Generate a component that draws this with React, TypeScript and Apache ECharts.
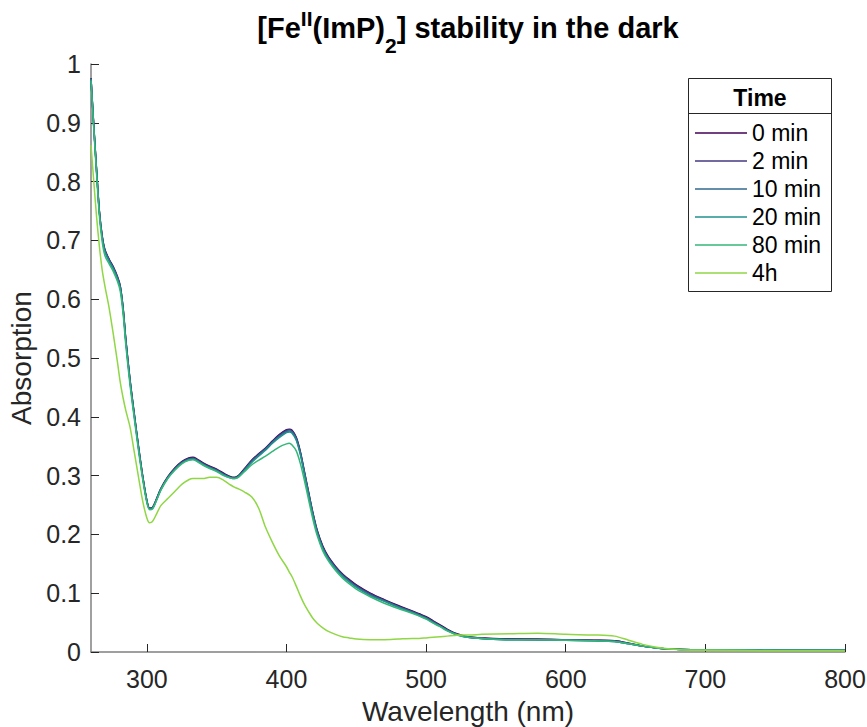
import React, { useEffect, useRef } from 'react';
import * as echarts from 'echarts';

const FONT = '"Liberation Sans", Arial, Helvetica, sans-serif';

const wavelengths = [
  260, 262, 264, 266, 268, 270,
  273, 276, 279, 281, 283, 285,
  288, 291, 294, 297, 300, 302,
  304, 307, 310, 315, 320, 325,
  330, 333, 336, 340, 345, 350,
  355, 360, 363, 366, 370, 375,
  380, 385, 390, 395, 400, 402,
  404, 407, 410, 413, 416, 419,
  422, 426, 430, 435, 440, 445,
  450, 460, 470, 480, 490, 495,
  500, 505, 510, 515, 520, 525,
  530, 540, 560, 580, 600, 620,
  635, 645, 655, 665, 675, 690,
  700, 750, 800,
];

const min0 = [
  0.976, 0.895, 0.820, 0.750, 0.708, 0.684,
  0.668, 0.655, 0.638, 0.622, 0.585, 0.530,
  0.462, 0.405, 0.350, 0.300, 0.258, 0.245,
  0.246, 0.261, 0.278, 0.298, 0.313, 0.324,
  0.330, 0.331, 0.328, 0.322, 0.316, 0.311,
  0.304, 0.298, 0.297, 0.301, 0.312, 0.326,
  0.337, 0.347, 0.359, 0.370, 0.378, 0.379,
  0.377, 0.365, 0.340, 0.305, 0.270, 0.236,
  0.207, 0.180, 0.162, 0.146, 0.133, 0.123,
  0.114, 0.100, 0.089, 0.079, 0.070, 0.065,
  0.060, 0.053, 0.046, 0.039, 0.033, 0.029,
  0.026, 0.024, 0.022, 0.022, 0.021, 0.020,
  0.019, 0.015, 0.010, 0.007, 0.005, 0.004,
  0.004, 0.003, 0.003,
];

const min2 = [
  0.975, 0.894, 0.819, 0.749, 0.707, 0.683,
  0.667, 0.654, 0.637, 0.621, 0.584, 0.529,
  0.461, 0.404, 0.349, 0.299, 0.257, 0.244,
  0.245, 0.260, 0.277, 0.297, 0.312, 0.323,
  0.329, 0.330, 0.327, 0.321, 0.315, 0.310,
  0.303, 0.297, 0.296, 0.300, 0.311, 0.325,
  0.336, 0.346, 0.358, 0.369, 0.377, 0.378,
  0.376, 0.364, 0.339, 0.304, 0.269, 0.235,
  0.206, 0.179, 0.161, 0.145, 0.132, 0.122,
  0.113, 0.099, 0.088, 0.078, 0.069, 0.064,
  0.059, 0.052, 0.045, 0.038, 0.032, 0.028,
  0.025, 0.023, 0.022, 0.021, 0.021, 0.020,
  0.019, 0.015, 0.010, 0.007, 0.005, 0.004,
  0.004, 0.003, 0.003,
];

const min10 = [
  0.975, 0.893, 0.818, 0.748, 0.706, 0.682,
  0.666, 0.653, 0.636, 0.620, 0.583, 0.528,
  0.460, 0.403, 0.348, 0.298, 0.257, 0.244,
  0.245, 0.260, 0.277, 0.297, 0.311, 0.322,
  0.328, 0.329, 0.326, 0.320, 0.314, 0.309,
  0.302, 0.297, 0.296, 0.300, 0.310, 0.324,
  0.335, 0.345, 0.357, 0.367, 0.375, 0.376,
  0.374, 0.362, 0.337, 0.302, 0.267, 0.233,
  0.204, 0.177, 0.159, 0.143, 0.130, 0.120,
  0.111, 0.097, 0.087, 0.077, 0.068, 0.063,
  0.058, 0.051, 0.044, 0.037, 0.032, 0.028,
  0.025, 0.023, 0.021, 0.021, 0.020, 0.019,
  0.018, 0.014, 0.010, 0.007, 0.005, 0.004,
  0.004, 0.003, 0.003,
];

const min20 = [
  0.974, 0.892, 0.817, 0.747, 0.704, 0.680,
  0.664, 0.651, 0.634, 0.618, 0.581, 0.526,
  0.458, 0.401, 0.347, 0.297, 0.256, 0.243,
  0.244, 0.259, 0.276, 0.296, 0.310, 0.321,
  0.327, 0.328, 0.325, 0.319, 0.313, 0.308,
  0.301, 0.296, 0.295, 0.299, 0.309, 0.322,
  0.333, 0.343, 0.355, 0.365, 0.373, 0.374,
  0.372, 0.360, 0.335, 0.300, 0.265, 0.231,
  0.202, 0.175, 0.158, 0.142, 0.129, 0.119,
  0.110, 0.096, 0.086, 0.076, 0.067, 0.062,
  0.057, 0.050, 0.044, 0.037, 0.031, 0.027,
  0.025, 0.023, 0.021, 0.021, 0.020, 0.019,
  0.018, 0.014, 0.010, 0.007, 0.005, 0.004,
  0.004, 0.003, 0.003,
];

const min80 = [
  0.972, 0.889, 0.812, 0.742, 0.698, 0.674,
  0.660, 0.647, 0.630, 0.613, 0.575, 0.520,
  0.453, 0.397, 0.343, 0.294, 0.254, 0.242,
  0.243, 0.258, 0.275, 0.295, 0.309, 0.320,
  0.326, 0.327, 0.324, 0.318, 0.312, 0.307,
  0.300, 0.296, 0.295, 0.298, 0.307, 0.318,
  0.326, 0.333, 0.341, 0.349, 0.354, 0.355,
  0.352, 0.342, 0.320, 0.290, 0.257, 0.225,
  0.198, 0.172, 0.155, 0.139, 0.126, 0.116,
  0.107, 0.094, 0.083, 0.074, 0.066, 0.061,
  0.056, 0.049, 0.043, 0.036, 0.031, 0.027,
  0.025, 0.023, 0.021, 0.021, 0.020, 0.019,
  0.018, 0.014, 0.010, 0.007, 0.005, 0.004,
  0.004, 0.003, 0.003,
];

const h4 = [
  0.862, 0.800, 0.740, 0.690, 0.650, 0.622,
  0.585, 0.540, 0.492, 0.458, 0.432, 0.410,
  0.382, 0.340, 0.298, 0.257, 0.228, 0.220,
  0.222, 0.235, 0.249, 0.261, 0.273, 0.285,
  0.293, 0.295, 0.295, 0.295, 0.297, 0.297,
  0.292, 0.284, 0.280, 0.277, 0.272, 0.264,
  0.245, 0.212, 0.186, 0.163, 0.145, 0.136,
  0.128, 0.112, 0.095, 0.080, 0.068, 0.057,
  0.049, 0.041, 0.035, 0.030, 0.026, 0.024,
  0.022, 0.021, 0.021, 0.022, 0.023, 0.023,
  0.024, 0.025, 0.026, 0.027, 0.028, 0.029,
  0.029, 0.030, 0.031, 0.032, 0.030, 0.029,
  0.027, 0.020, 0.013, 0.008, 0.005, 0.003,
  0.003, 0.002, 0.002,
];

const seriesNames = ['0 min', '2 min', '10 min', '20 min', '80 min', '4h'];
const seriesValues = [min0, min2, min10, min20, min80, h4];
const seriesColors = ['#440154', '#443983', '#31688E', '#21918C', '#35B779', '#8FD744'];

export default function App() {
  const ref = useRef<HTMLDivElement>(null);

  useEffect(() => {
    if (!ref.current) return;
    const chart = echarts.init(ref.current, null, { renderer: 'svg' });

    const series = seriesNames.map((name, k) => ({
      name,
      type: 'line',
      symbol: 'none',
      smooth: 0.3,
      data: wavelengths.map((w, i) => [w, seriesValues[k][i]]),
      lineStyle: { color: seriesColors[k], width: 1.5 },
      itemStyle: { color: seriesColors[k] },
      z: 2 + k * 0.01,
    }));

    const option: any = {
      animation: false,
      backgroundColor: '#ffffff',
      textStyle: { fontFamily: FONT },
      title: {
        text: '[Fe{sup|II}(ImP){sub|2}] stability in the dark',
        left: 468,
        top: 0,
        textAlign: 'center',
        padding: 0,
        textStyle: {
          fontSize: 29,
          fontWeight: 'bold',
          color: '#000000',
          fontFamily: FONT,
          lineHeight: 56,
          rich: {
            sup: {
              fontSize: 21,
              fontWeight: 'bold',
              color: '#000000',
              fontFamily: FONT,
              lineHeight: 21,
              padding: [8, 0, 27, 0],
            },
            sub: {
              fontSize: 21,
              fontWeight: 'bold',
              color: '#000000',
              fontFamily: FONT,
              lineHeight: 21,
              padding: [35, 0, 0, 0],
            },
          },
        },
      },
      grid: {
        left: 91,
        right: 22,
        top: 64,
        bottom: 75,
        containLabel: false,
        outerBoundsMode: 'none',
      },
      xAxis: {
        type: 'value',
        min: 260,
        max: 800,
        splitNumber: 5,
        name: 'Wavelength (nm)',
        nameLocation: 'middle',
        nameGap: 45,
        nameTextStyle: { fontSize: 28, color: '#262626', fontFamily: FONT },
        axisLine: { show: true, onZero: false, lineStyle: { color: '#808080', width: 1.5 } },
        axisTick: { show: true, inside: true, length: 8, lineStyle: { color: '#262626', width: 1 } },
        axisLabel: { fontSize: 25, color: '#262626', margin: 14, showMinLabel: false, fontFamily: FONT },
        splitLine: { show: false },
      },
      yAxis: {
        type: 'value',
        min: 0,
        max: 1,
        interval: 0.1,
        name: 'Absorption',
        nameLocation: 'middle',
        nameGap: 50,
        nameRotate: 90,
        nameTextStyle: { fontSize: 28, color: '#262626', fontFamily: FONT },
        axisLine: { show: true, onZero: false, lineStyle: { color: '#808080', width: 1.5 } },
        axisTick: { show: true, inside: true, length: 8, lineStyle: { color: '#262626', width: 1 } },
        axisLabel: { fontSize: 25, color: '#262626', margin: 10, fontFamily: FONT },
        splitLine: { show: false },
      },
      legend: {
        orient: 'vertical',
        left: 695,
        top: 119,
        icon: 'rect',
        itemWidth: 52,
        itemHeight: 1.5,
        itemGap: 0,
        padding: 0,
        selectedMode: false,
        data: seriesNames,
        textStyle: { fontSize: 23, color: '#000000', lineHeight: 28, fontFamily: FONT },
        z: 6,
      },
      graphic: [
        {
          type: 'rect',
          z: 5,
          shape: { x: 688.5, y: 78.5, width: 143, height: 213 },
          style: { fill: '#ffffff', stroke: '#262626', lineWidth: 1 },
        },
        {
          type: 'line',
          z: 5,
          shape: { x1: 688.5, y1: 113.5, x2: 831.5, y2: 113.5 },
          style: { stroke: '#262626', lineWidth: 1 },
        },
        {
          type: 'text',
          z: 7,
          x: 760,
          y: 98,
          style: {
            text: 'Time',
            fontSize: 23,
            fontWeight: 'bold',
            fontFamily: FONT,
            fill: '#000000',
            align: 'center',
            verticalAlign: 'middle',
          },
        },
      ],
      series,
    };

    chart.setOption(option);
    return () => chart.dispose();
  }, []);

  return (
    <div
      ref={ref}
      style={{ position: 'fixed', left: 0, top: 0, width: 867, height: 727, background: '#ffffff' }}
    />
  );
}
